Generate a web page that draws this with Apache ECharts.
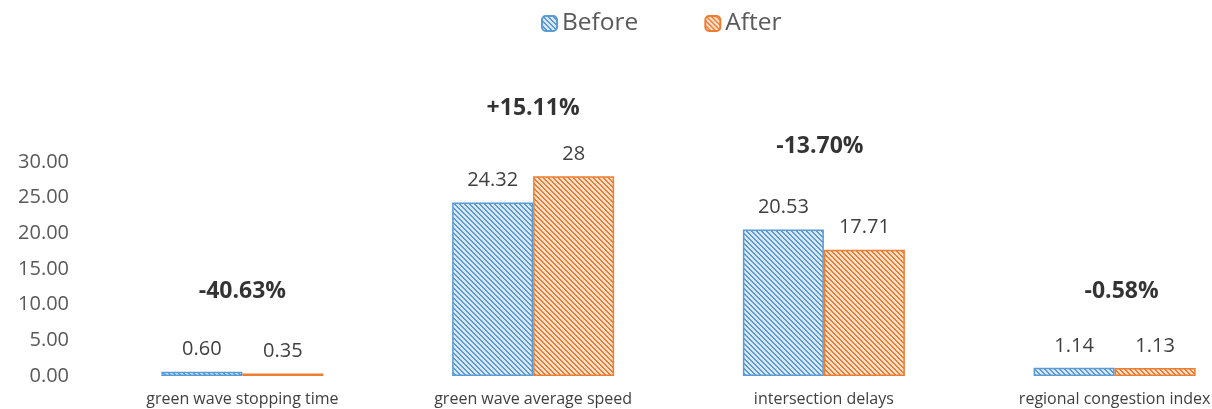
<!DOCTYPE html>
<html>
<head>
<meta charset="utf-8">
<script src="https://cdn.jsdelivr.net/npm/echarts@6/dist/echarts.min.js"></script>
<style>html,body{margin:0;padding:0;background:#fff}#c{width:1212px;height:409px}</style>
</head>
<body>
<div id="c"></div>
<script>
var categories = ['green wave stopping time', 'green wave average speed', 'intersection delays', 'regional congestion index'];
var beforeValues = [0.60, 24.32, 20.53, 1.14];
var afterValues = [0.35, 28, 17.71, 1.13];
var beforeLabels = ['0.60', '24.32', '20.53', '1.14'];
var afterLabels = ['0.35', '28', '17.71', '1.13'];
var changeLabels = ['-40.63%', '+15.11%', '-13.70%', '-0.58%'];
var changeLevels = [11.8, 37.5, 32.2, 11.8];
var yTicks = [0, 5, 10, 15, 20, 25, 30];

function makePattern(bg, fg) {
  var n = 5;
  var c = document.createElement('canvas');
  c.width = n; c.height = n;
  var ctx = c.getContext('2d');
  ctx.fillStyle = bg; ctx.fillRect(0, 0, n, n);
  ctx.fillStyle = fg;
  for (var y = 0; y < n; y++) {
    for (var k = 0; k < 2; k++) {
      ctx.fillRect((y + k) % n, y, 1, 1);
    }
  }
  return c;
}
var bluePat = { image: makePattern('#d9e7f6', '#5b9bd5'), repeat: 'repeat' };
var orangePat = { image: makePattern('#fde0cc', '#ed7d31'), repeat: 'repeat' };

var chart = echarts.init(document.getElementById('c'), null, { renderer: 'canvas' });
var labelOffsets = [[0, 0], [0, 0], [-4, 0], [7, 0]];
chart.setOption({
  animation: false,
  textStyle: { fontFamily: 'Open Sans' },
  legend: {
    top: 6, left: 536, itemGap: 66, itemWidth: 15, itemHeight: 15,
    data: ['Before', 'After'],
    textStyle: { fontSize: 24.5, color: '#595959', fontFamily: 'Open Sans' }
  },
  grid: { left: 97, right: -48, top: 162, bottom: 33, outerBoundsMode: 'none', containLabel: false },
  xAxis: {
    type: 'category', data: categories,
    axisLine: { show: false }, axisTick: { show: false },
    axisLabel: { fontSize: 16, color: '#404040', margin: 15, interval: 0 }
  },
  yAxis: {
    type: 'value', min: yTicks[0], max: yTicks[yTicks.length - 1], interval: yTicks[1] - yTicks[0],
    splitLine: { show: false }, axisLine: { show: false }, axisTick: { show: false },
    axisLabel: { fontSize: 20, color: '#595959', margin: 28, formatter: function (v) { return v.toFixed(2); } }
  },
  series: [
    {
      name: 'Before', type: 'bar', data: beforeValues, barWidth: 81, barGap: '0%',
      itemStyle: { color: bluePat, borderColor: '#5b9bd5', borderWidth: 1.5 },
      label: { show: true, position: 'top', distance: 12, fontSize: 20, color: '#404040',
        formatter: function (p) { return beforeLabels[p.dataIndex]; } }
    },
    {
      name: 'After', type: 'bar', data: afterValues, barWidth: 81,
      itemStyle: { color: orangePat, borderColor: '#ed7d31', borderWidth: 1.5 },
      label: { show: true, position: 'top', distance: 12, fontSize: 20, color: '#404040',
        formatter: function (p) { return afterLabels[p.dataIndex]; } }
    },
    {
      type: 'scatter', clip: false, symbolSize: 0, silent: true,
      data: changeLevels.map(function (v, i) {
        return { value: [i, v], label: { offset: labelOffsets[i] } };
      }),
      label: { show: true, position: 'inside', fontSize: 23, fontWeight: 'bold', color: '#000',
        formatter: function (p) { return changeLabels[p.dataIndex]; } }
    }
  ]
});
</script>
</body>
</html>
